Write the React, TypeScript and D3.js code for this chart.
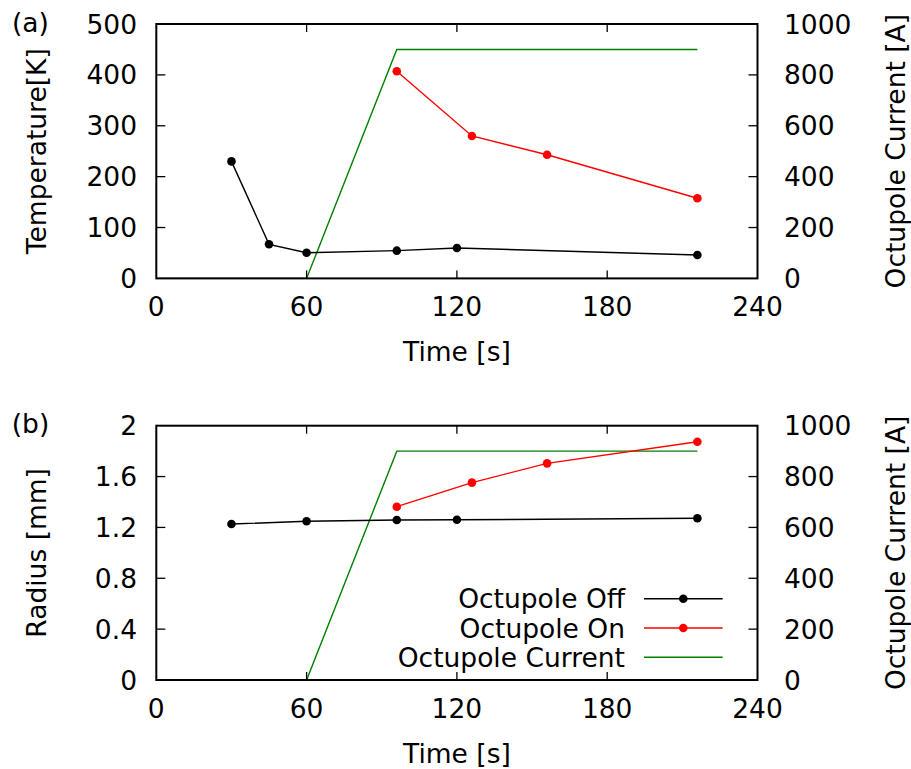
import React from "react";
import * as d3 from "d3";

const offTimeA = [30, 45, 60, 96, 120, 216];
const offTempA = [230, 67, 50.5, 54.5, 59.7, 46];
const onTimeA = [96, 126, 156, 216];
const onTempA = [407, 280, 243, 157.5];

const offTimeB = [30, 60, 96, 120, 216];
const offRadB = [1.227, 1.248, 1.258, 1.26, 1.272];
const onTimeB = [96, 126, 156, 216];
const onRadB = [1.363, 1.552, 1.704, 1.874];

const curTime = [0, 60, 96, 216];
const curVal = [0, 0, 900, 900];

const xTicks = [0, 60, 120, 180, 240];
const yTicksA = [0, 100, 200, 300, 400, 500];
const yTicksB = [0, 0.4, 0.8, 1.2, 1.6, 2];
const rTicks = [0, 200, 400, 600, 800, 1000];

const legendLabels = ["Octupole Off", "Octupole On", "Octupole Current"];

const FONT = "DejaVu Sans, sans-serif";
const FS = 26.5;

const x = d3.scaleLinear().domain([0, 240]).range([156.3, 757.5]);

function Panel({ top, bottom, yDomain, yTicks, yFmt, yLabel, tag, offT, offV, onT, onV, legend }: any) {
  const y = d3.scaleLinear().domain(yDomain).range([bottom, top]);
  const yr = d3.scaleLinear().domain([0, 1000]).range([bottom, top]);
  const line = (xs: number[], ys: number[], ys2: any) =>
    d3.line<number>().x((_, i) => x(xs[i])).y((_, i) => ys2(ys[i]))(xs) || "";
  const [x0, x1] = x.range();
  const mid = (top + bottom) / 2;
  return (
    <g>
      <text x={30.5} y={top - 2} fontSize={FS} textAnchor="middle" dominantBaseline="central" fontFamily={FONT}>{tag}</text>
      <path d={line(curTime, curVal, yr)} fill="none" stroke="#008000" strokeWidth={1.4} />
      <path d={line(offT, offV, y)} fill="none" stroke="#000" strokeWidth={1.4} />
      {offT.map((t: number, i: number) => <circle key={"o" + i} cx={x(t)} cy={y(offV[i])} r={4.3} fill="#000" />)}
      <path d={line(onT, onV, y)} fill="none" stroke="#ff0000" strokeWidth={1.4} />
      {onT.map((t: number, i: number) => <circle key={"r" + i} cx={x(t)} cy={y(onV[i])} r={4.3} fill="#ff0000" />)}
      {xTicks.map((t) => (
        <g key={"x" + t}>
          {t > 0 && t < 240 && <line x1={x(t)} x2={x(t)} y1={bottom} y2={bottom - 8} stroke="#000" strokeWidth={1.3} />}
          {t > 0 && t < 240 && <line x1={x(t)} x2={x(t)} y1={top} y2={top + 8} stroke="#000" strokeWidth={1.3} />}
          <text x={x(t)} y={bottom + 28} fontSize={FS} textAnchor="middle" dominantBaseline="central" fontFamily={FONT}>{t}</text>
        </g>
      ))}
      {yTicks.map((t: number) => (
        <g key={"y" + t}>
          {t !== yDomain[0] && t !== yDomain[1] && <line x1={x0} x2={x0 + 9} y1={y(t)} y2={y(t)} stroke="#000" strokeWidth={1.3} />}
          <text x={137} y={y(t)} fontSize={FS} textAnchor="end" dominantBaseline="central" fontFamily={FONT}>{yFmt(t)}</text>
        </g>
      ))}
      {rTicks.map((t) => (
        <g key={"r" + t}>
          {t !== 0 && t !== 1000 && <line x1={x1} x2={x1 - 9} y1={yr(t)} y2={yr(t)} stroke="#000" strokeWidth={1.3} />}
          <text x={784} y={yr(t)} fontSize={FS} textAnchor="start" dominantBaseline="central" fontFamily={FONT}>{t}</text>
        </g>
      ))}
      <rect x={x0} y={top} width={x1 - x0} height={bottom - top} fill="none" stroke="#000" strokeWidth={2} />
      <text transform={`translate(36,${mid}) rotate(-90)`} fontSize={FS} textAnchor="middle" dominantBaseline="central" fontFamily={FONT}>{yLabel}</text>
      <text transform={`translate(895,${mid}) rotate(-90)`} fontSize={FS} textAnchor="middle" dominantBaseline="central" fontFamily={FONT}>Octupole Current [A]</text>
      <text x={(x0 + x1) / 2} y={bottom + 73} fontSize={FS} textAnchor="middle" dominantBaseline="central" fontFamily={FONT}>Time [s]</text>
      {legend && legendLabels.map((lab, i) => {
        const ly = 598.7 + i * 29.3;
        const col = ["#000", "#ff0000", "#008000"][i];
        return (
          <g key={lab}>
            <text x={625} y={ly} fontSize={FS} textAnchor="end" dominantBaseline="central" fontFamily={FONT}>{lab}</text>
            <line x1={644} x2={722.7} y1={ly} y2={ly} stroke={col} strokeWidth={1.4} />
            {i < 2 && <circle cx={683.3} cy={ly} r={4.3} fill={col} />}
          </g>
        );
      })}
    </g>
  );
}

export default function App() {
  return (
    <svg width={911} height={769} style={{ display: "block", position: "absolute", left: 0, top: 0, background: "#fff" }}>
      <Panel top={24} bottom={278.4} yDomain={[0, 500]} yTicks={yTicksA} yFmt={(v: number) => String(v)} yLabel="Temperature[K]" tag="(a)"
        offT={offTimeA} offV={offTempA} onT={onTimeA} onV={onTempA} legend={false} />
      <Panel top={425.7} bottom={680} yDomain={[0, 2]} yTicks={yTicksB} yFmt={(v: number) => String(v)} yLabel="Radius [mm]" tag="(b)"
        offT={offTimeB} offV={offRadB} onT={onTimeB} onV={onRadB} legend={true} />
    </svg>
  );
}
